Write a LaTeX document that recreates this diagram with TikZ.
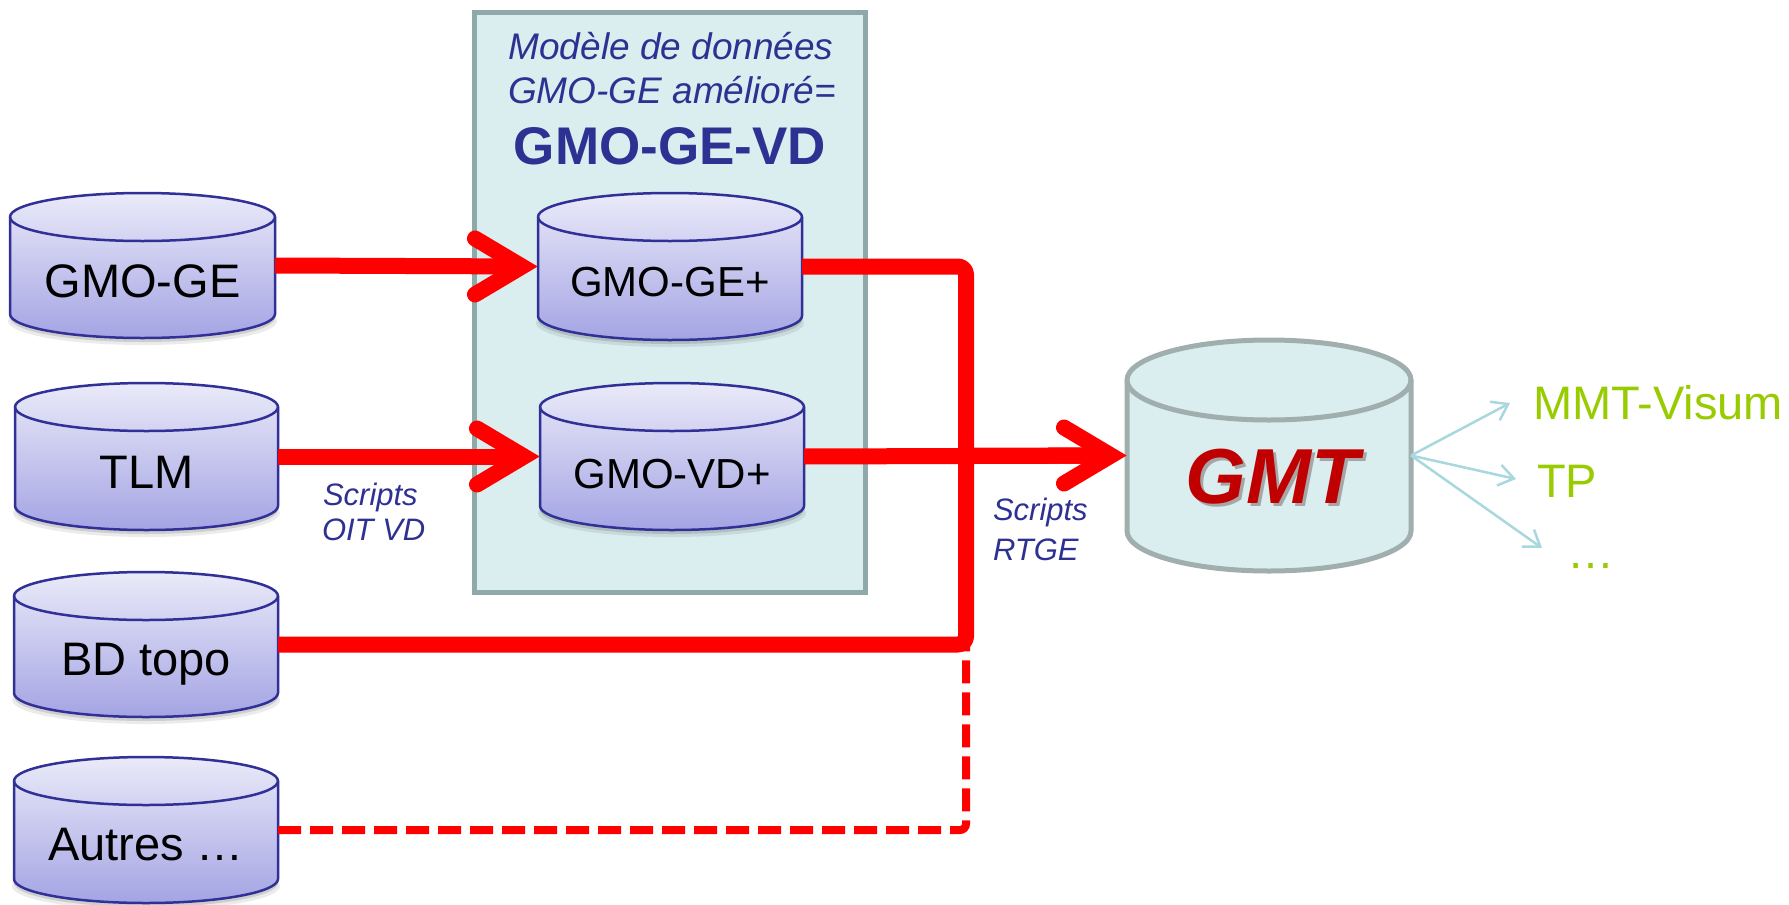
\documentclass[tikz,border=0pt]{standalone}
\usepackage{fontspec}
\setmainfont{Liberation Sans}
\usetikzlibrary{calc,arrows.meta}
\definecolor{navy}{RGB}{46,49,146}
\definecolor{cylborder}{RGB}{48,48,150}
\definecolor{cyltop}{RGB}{234,234,249}
\definecolor{cylbot}{RGB}{164,164,228}
\definecolor{boxfill}{RGB}{218,237,239}
\definecolor{boxline}{RGB}{143,168,169}
\definecolor{gmtline}{RGB}{160,174,174}
\definecolor{gmtred}{RGB}{192,0,0}
\definecolor{outgreen}{RGB}{153,204,0}
\definecolor{outline}{RGB}{168,216,222}
\definecolor{pred}{RGB}{255,0,0}

\newcommand\dbcyl[8]{%
  \path[#7] (#2,{#3+#6}) -- (#2,{#5-#6}) arc[start angle=180,end angle=0,x radius={(#4-#2)/2},y radius=#6] -- (#4,{#3+#6}) arc[start angle=0,end angle=-180,x radius={(#4-#2)/2},y radius=#6] -- cycle;
  \draw[#8] (#2,{#3+#6}) arc[start angle=180,end angle=0,x radius={(#4-#2)/2},y radius=#6];
  \node[inner sep=0pt,outer sep=0pt,minimum width={(#4-#2)*1pt},minimum height={(#5-#3)*1pt}] (#1) at ({(#2+#4)/2},{(#3+#5)/2}) {};
}
\newcommand\bluecyl[5]{%
  \fill[black,opacity=0.08] ({(#2+#4)/2},{#5-24+7}) ellipse[x radius={(#4-#2)/2+2},y radius=24];
  \fill[black,opacity=0.12] ({(#2+#4)/2},{#5-24+4}) ellipse[x radius={(#4-#2)/2},y radius=24];
  \dbcyl{#1}{#2}{#3}{#4}{#5}{24}{bluebody}{bluefront}%
}

\tikzset{
  bluebody/.style={top color=cyltop, bottom color=cylbot, draw=cylborder, line width=2.5pt},
  bluefront/.style={draw=cylborder, line width=2.5pt},
  gmtbody/.style={fill=boxfill, draw=gmtline, line width=5pt},
  gmtfront/.style={draw=gmtline, line width=5pt},
  txt/.style={inner sep=0pt, outer sep=0pt},
  cyllbl/.style={txt, font=\fontsize{47}{56}\selectfont},
  cyllbls/.style={txt, font=\fontsize{42}{50}\selectfont},
  ttl/.style={txt, text=navy, font=\fontsize{37}{44}\selectfont\itshape},
  ttlb/.style={txt, text=navy, font=\fontsize{53}{62}\selectfont\bfseries},
  scr/.style={txt, text=navy, font=\fontsize{31}{37}\selectfont\itshape},
  outlbl/.style={txt, text=outgreen, font=\fontsize{47}{56}\selectfont},
  gmtlbl/.style={txt, font=\fontsize{78}{90}\selectfont\bfseries\itshape},
  conn/.style={draw=pred, line width=16pt, line join=round, rounded corners=8pt},
  dconn/.style={draw=pred, line width=8pt, dash pattern=on 23pt off 9pt, rounded corners=6pt},
  chev/.style={draw=pred, line width=16pt, line cap=round, line join=miter},
  outarr/.style={draw=outline, line width=2.5pt, -{Straight Barb[length=15pt,width=21pt]}},
}

\begin{document}
\begin{tikzpicture}[x=1pt,y=-1pt]
\useasboundingbox (0,0) rectangle (1789,905);
\fill[white] (0,0) rectangle (1789,905);

% enclosing box
\node[draw=boxline, fill=boxfill, line width=5pt, minimum width=391pt, minimum height=580pt, inner sep=0pt] (vdbox) at (669.5,302) {};
\node[ttl, anchor=base] (ti1) at (671,59.5) {Modèle de données};
\node[ttl, anchor=base] (ti2) at (672,103) {GMO-GE amélioré=};
\node[ttlb, anchor=base] (ti3) at (670,164) {GMO-GE-VD};

% source cylinders
\bluecyl{gmoge}{10}{193}{275}{338}
\bluecyl{tlm}{15}{383}{278}{530}
\bluecyl{bdtopo}{14}{572}{278}{717}
\bluecyl{autres}{14}{757}{278}{903}
\bluecyl{gmogep}{538}{193}{802}{340}
\bluecyl{gmovdp}{540}{383}{804}{530}

\node[cyllbl, anchor=base] (l-gmoge) at (142.5,297) {GMO-GE};
\node[cyllbl, anchor=base] (l-tlm) at (146.5,488) {TLM};
\node[cyllbl, anchor=base] (l-bdtopo) at (146,675) {BD topo};
\node[cyllbl, anchor=base] (l-autres) at (146,860) {Autres …};
\node[cyllbls, anchor=base] (l-gmogep) at (670,296) {GMO-GE+};
\node[cyllbls, anchor=base] (l-gmovdp) at (672,488) {GMO-VD+};

% GMT cylinder
\dbcyl{gmt}{1127}{340}{1411}{571}{40}{gmtbody}{gmtfront}
\node[gmtlbl, anchor=base, text=black!35] (l-gmtsh) at (1275,506) {GMT};
\node[gmtlbl, anchor=base, text=gmtred] (l-gmt) at (1272,503) {GMT};

% junction of the collector
\coordinate (jn) at (966,456);

% connectors
\draw[dconn] (autres.east) -| (jn |- bdtopo.east);
\draw[conn, shorten >=16pt] (gmoge.east) -- (gmogep.west);
\draw[conn, shorten >=16pt] (tlm.east) -- (gmovdp.west);
\draw[conn, shorten >=16pt] (gmogep.east) -| (jn) -- (gmt.west);
\draw[conn, shorten >=16pt] (bdtopo.east) -| (jn) -- (gmt.west);
\draw[conn, shorten >=16pt] (gmovdp.east) -- (gmt.west);

% chevron heads
\foreach \n in {gmogep,gmovdp,gmt}
  \draw[chev] ($(\n.west)+(-63,-28)$) -- ($(\n.west)+(-16,0)$) -- ($(\n.west)+(-63,28)$);

% labels
\node[scr, anchor=base west] (s1a) at (323,505) {Scripts};
\node[scr, anchor=base west] (s1b) at (322,540) {OIT VD};
\node[scr, anchor=base west] (s2a) at (993,520) {Scripts};
\node[scr, anchor=base west] (s2b) at (993,560) {RTGE};

% outputs
\coordinate (o1) at (1510,403);
\coordinate (o2) at (1516,479);
\coordinate (o3) at (1542,548);
\draw[outarr] (gmt.east) -- (o1);
\draw[outarr] (gmt.east) -- (o2);
\draw[outarr] (gmt.east) -- (o3);
\node[outlbl, anchor=base west] (out1) at (1533,419) {MMT-Visum};
\node[outlbl, anchor=base west] (out2) at (1537,497) {TP};
\node[outlbl, anchor=base west] (out3) at (1567,568) {…};
\end{tikzpicture}
\end{document}
